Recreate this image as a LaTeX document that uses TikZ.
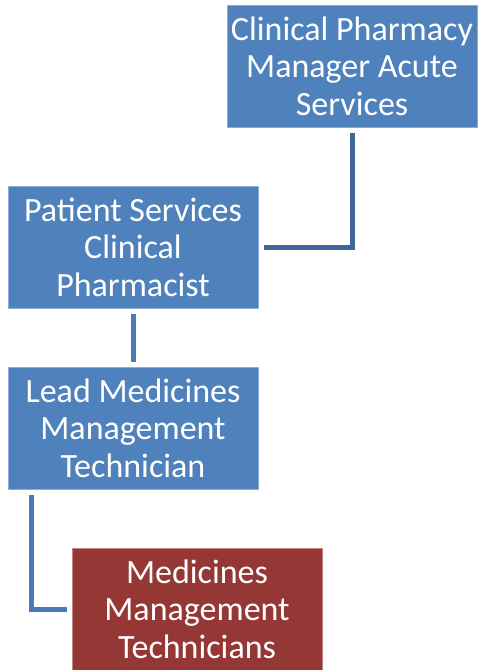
\documentclass[tikz,border=0pt]{standalone}
\usepackage{fontspec}
\setmainfont{Carlito}
\usetikzlibrary{calc}
\definecolor{roleblue}{HTML}{4F81BD}
\definecolor{roleedge}{HTML}{8EAADB}
\definecolor{rolered}{HTML}{953735}
\definecolor{redge}{HTML}{C08583}
\definecolor{linkdark}{HTML}{3E6699}
\definecolor{linkblue}{HTML}{4A7AB8}
\tikzset{
  role/.style={draw=roleedge, line width=0.8pt, fill=roleblue, text=white,
    minimum width=250pt, minimum height=122pt, inner sep=0pt, align=center,
    font=\fontsize{34}{37.5}\selectfont},
  staff/.style={role, draw=redge, fill=rolered},
  link/.style={line width=5pt, color=linkblue},
}

\begin{document}
\begin{tikzpicture}[x=1pt, y=-1pt]
			%%%%% START %%%%%
			
			\useasboundingbox (0, 0) rectangle (480, 670);
			
			\node[role] (mgr) at (352, 66) {Clinical Pharmacy\\Manager Acute\\Services};
			\node[role] (psc) at (133, 247) {Patient Services\\Clinical\\Pharmacist};
			\node[role] (lead) at (133, 428) {Lead Medicines\\Management\\Technician};
			\node[staff] (tech) at (197, 609) {Medicines\\Management\\Technicians};
			
			\draw[link, color=linkdark] ($(mgr.south)+(0, 6)$) |- ($(psc.east)+(6, 0)$);
			\draw[link] ($(psc.south)+(0, 6)$) -- ($(lead.north)+(0, -5)$);
			\draw[link] ($(lead.south west)+(23.5, 6)$) |- ($(tech.west)+(-5, 0)$);
			
			%%%%% END %%%%%
		\end{tikzpicture}
\end{document}
